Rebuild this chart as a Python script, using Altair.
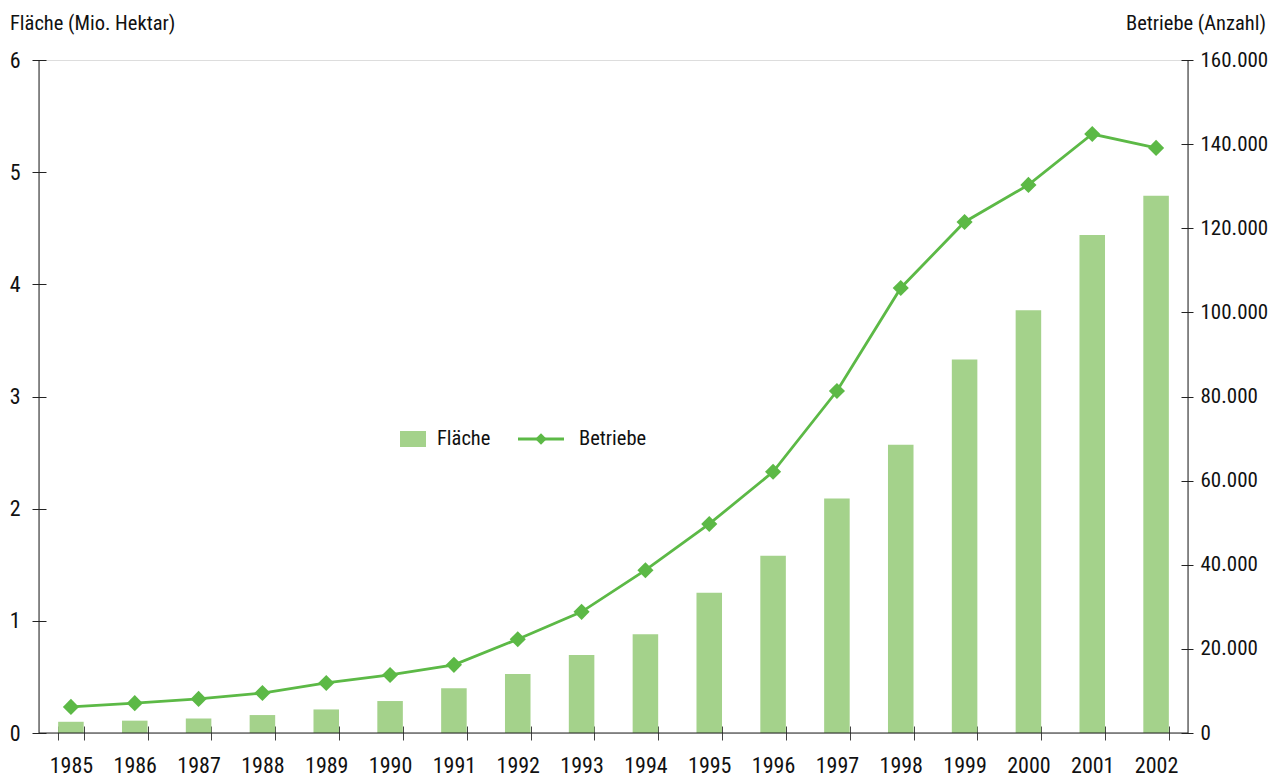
import altair as alt
import pandas as pd

years = ["1985", "1986", "1987", "1988", "1989", "1990", "1991", "1992", "1993",
         "1994", "1995", "1996", "1997", "1998", "1999", "2000", "2001", "2002"]
flaeche = [0.10, 0.11, 0.13, 0.16, 0.21, 0.285, 0.40, 0.525, 0.695, 0.88,
           1.25, 1.58, 2.09, 2.57, 3.33, 3.77, 4.44, 4.79]
betriebe = [6200, 7100, 8100, 9500, 11900, 13800, 16200, 22300, 28800, 38700,
            49700, 62100, 81300, 105800, 121500, 130300, 142400, 139100]
left_ticks = [0, 1, 2, 3, 4, 5, 6]
right_ticks = [0, 20000, 40000, 60000, 80000, 100000, 120000, 140000, 160000]

df = pd.DataFrame({"Jahr": years, "Fläche": flaeche, "Betriebe": betriebe})

W, H = 1149, 673
FONT = "Roboto Condensed, Open Sans Condensed, Noto Sans Condensed, Arial Narrow, sans-serif"
FS = 22
FR = 21
FT = 20.5
BAR = "#a4d28b"
LINE = "#5cb946"
AX = "#222222"
TXT = "#111111"

xenc = alt.X("Jahr:N", sort=years,
             scale=alt.Scale(paddingInner=0.6, paddingOuter=0.3),
             axis=alt.Axis(title=None, labelAngle=0, offset=-7, tickSize=14,
                           domain=False, tickBand="extent", labelPadding=15,
                           tickColor="#444444", labelFont=FONT, labelFontSize=FS,
                           labelColor=TXT))

bars = alt.Chart(df).mark_bar(color=BAR).encode(
    x=xenc,
    y=alt.Y("Fläche:Q", scale=alt.Scale(domain=[0, 6], nice=False),
            axis=alt.Axis(orient="left", title=None, values=left_ticks, offset=-7,
                          tickSize=14, domain=False, labelPadding=12, grid=False,
                          tickColor=AX, labelFont=FONT, labelFontSize=FS,
                          labelColor=TXT)),
)

line = alt.Chart(df).mark_line(
    color=LINE, strokeWidth=2.8,
    point=alt.OverlayMarkDef(shape="diamond", size=260, filled=True, color=LINE, opacity=1),
).encode(
    x=alt.X("Jahr:N", sort=years),
    y=alt.Y("Betriebe:Q", scale=alt.Scale(domain=[0, 160000], nice=False),
            axis=alt.Axis(orient="right", title=None, values=right_ticks, offset=-7,
                          tickSize=12, domain=False, labelPadding=7, grid=False,
                          tickColor=AX, labelFont=FONT, labelFontSize=FR,
                          labelColor=TXT,
                          labelExpr="replace(format(datum.value, ',d'), ',', '.')")),
)

one = pd.DataFrame({"a": [0]})
base1 = alt.Chart(one)

dom_left = base1.mark_rule(color=AX, strokeWidth=1).encode(
    x=alt.value(0), y=alt.value(0), y2=alt.value(H))
dom_right = base1.mark_rule(color=AX, strokeWidth=1).encode(
    x=alt.value(W), y=alt.value(0), y2=alt.value(H))
dom_bottom = base1.mark_rule(color=AX, strokeWidth=1).encode(
    y=alt.value(H), x=alt.value(0), x2=alt.value(W))

title_left = base1.mark_text(text="Fläche (Mio. Hektar)", align="left", baseline="alphabetic",
                             font=FONT, fontSize=FT, color=TXT).encode(
    x=alt.value(-29), y=alt.value(-30))
title_right = base1.mark_text(text="Betriebe (Anzahl)", align="right", baseline="alphabetic",
                              font=FONT, fontSize=FT, color=TXT).encode(
    x=alt.value(1227), y=alt.value(-30))

leg_rect = base1.mark_rect(color=BAR).encode(
    x=alt.value(361), x2=alt.value(387), y=alt.value(371), y2=alt.value(387))
leg_text1 = base1.mark_text(text="Fläche", align="left", baseline="middle",
                            font=FONT, fontSize=FT, color=TXT).encode(
    x=alt.value(398), y=alt.value(379))
leg_line = base1.mark_rule(color=LINE, strokeWidth=2.8).encode(
    x=alt.value(479), x2=alt.value(525), y=alt.value(379))
leg_pt = base1.mark_point(shape="diamond", size=130, filled=True, color=LINE, opacity=1).encode(
    x=alt.value(502), y=alt.value(379))
leg_text2 = base1.mark_text(text="Betriebe", align="left", baseline="middle",
                            font=FONT, fontSize=FT, color=TXT).encode(
    x=alt.value(540), y=alt.value(379))

chart = alt.layer(
    bars, line, dom_left, dom_right, dom_bottom,
    title_left, title_right, leg_rect, leg_text1, leg_line, leg_pt, leg_text2,
).resolve_scale(y="independent").properties(
    width=W, height=H,
    autosize=alt.AutoSizeParams(type="none"),
    padding={"left": 31, "top": 52, "right": 80, "bottom": 43},
).configure_view(stroke=None).configure(background="white")

chart.save("out.html", embed_options={"renderer": "svg", "actions": False})
